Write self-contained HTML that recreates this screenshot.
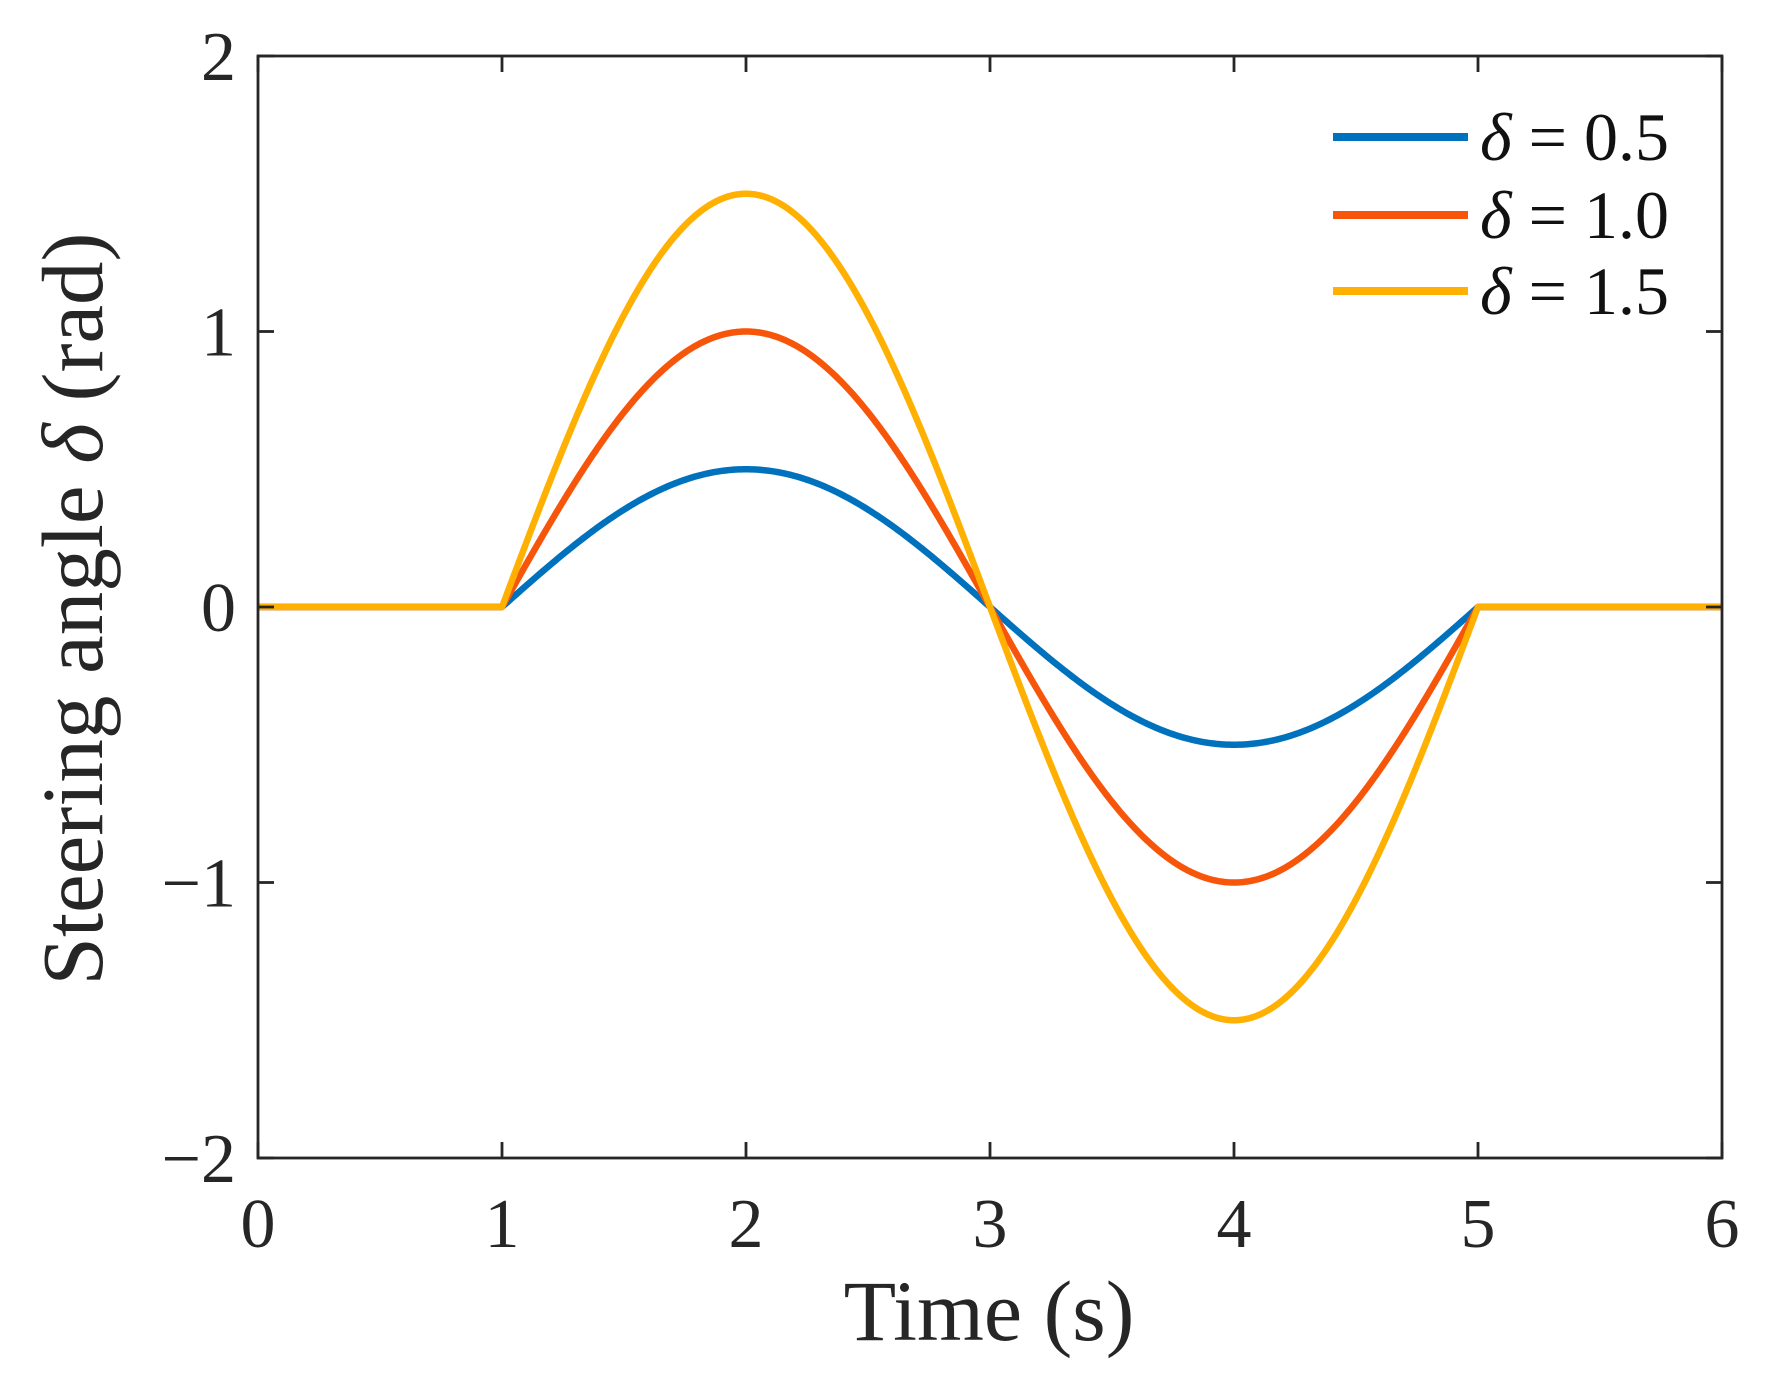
<!DOCTYPE html>
<html><head><meta charset="utf-8"><style>
html,body{margin:0;padding:0;background:#fff;}
svg{display:block;font-family:"Liberation Serif",serif;}
</style></head><body>
<svg id="chart" width="1768" height="1386" viewBox="0 0 1768 1386" xmlns="http://www.w3.org/2000/svg">
<rect x="0" y="0" width="1768" height="1386" fill="#fff"/>
<g id="plot"></g>
</svg>
<script>
const xTicks = [0,1,2,3,4,5,6];
const yTicks = [-2,-1,0,1,2];
const yTickLabels = ["\u22122","\u22121","0","1","2"];
const seriesNames = ["\u03b4 = 0.5","\u03b4 = 1.0","\u03b4 = 1.5"];
const amplitudes = [0.5, 1.0, 1.5];
const colors = ["#0072BD","#F75509","#FFB000"];
const maneuverStart = 1, maneuverEnd = 5;

const L=258,R=1722,T=56,B=1158;
const X=t=>L+(t-0)/(6-0)*(R-L);
const Y=v=>B-(v+2)/4*(B-T);
const g=document.getElementById('plot');
const NS="http://www.w3.org/2000/svg";
function mk(tag,attrs,parent){const e=document.createElementNS(NS,tag);for(const k in attrs)e.setAttribute(k,attrs[k]);(parent||g).appendChild(e);return e;}

amplitudes.forEach((a,i)=>{
  let pts=[];
  for(let k=0;k<=600;k++){
    const t=k/100;
    let v=0;
    if(t>=maneuverStart&&t<=maneuverEnd) v=a*Math.sin(Math.PI*(t-maneuverStart)/2);
    pts.push(X(t).toFixed(2)+','+Y(v).toFixed(2));
  }
  const p=mk('polyline',{points:pts.join(' '),fill:'none',stroke:colors[i],'stroke-width':6.5,'stroke-linejoin':'round'});
  
  
});

const box=mk('rect',{x:L,y:T,width:R-L,height:B-T,fill:'none',stroke:'#262626','stroke-width':2.8});



xTicks.forEach(t=>{
  mk('line',{x1:X(t),x2:X(t),y1:B,y2:B-16,stroke:'#262626','stroke-width':2.8});
  mk('line',{x1:X(t),x2:X(t),y1:T,y2:T+16,stroke:'#262626','stroke-width':2.8});
  const tx=mk('text',{x:X(t),y:1247,'text-anchor':'middle','font-size':70,fill:'#262626'});
  tx.textContent=t;
  
  
});
yTicks.forEach((v,i)=>{
  mk('line',{x1:L,x2:L+16,y1:Y(v),y2:Y(v),stroke:'#262626','stroke-width':2.8});
  mk('line',{x1:R,x2:R-16,y1:Y(v),y2:Y(v),stroke:'#262626','stroke-width':2.8});
  const tx=mk('text',{x:236,y:Y(v)+24,'text-anchor':'end','font-size':70,fill:'#262626'});
  tx.textContent=yTickLabels[i];
  
  
});

const xt=mk('text',{x:989,y:1340,'text-anchor':'middle','font-size':86,fill:'#262626'});
xt.textContent='Time (s)';



const yt=mk('text',{x:0,y:0,'text-anchor':'middle','font-size':87,fill:'#262626',transform:'translate(102,609) rotate(-90)'});
yt.innerHTML='Steering angle <tspan font-style="italic">\u03b4</tspan> (rad)';



const legY=[137,215,291];
seriesNames.forEach((n,i)=>{
  const ln=mk('line',{x1:1333,x2:1468,y1:legY[i],y2:legY[i],stroke:colors[i],'stroke-width':8});
  
  
  const tx=mk('text',{x:1480,y:legY[i]+23,'font-size':68,fill:'#111'});
  const parts=n.split(' = ');
  tx.innerHTML='<tspan font-style="italic">'+parts[0]+'</tspan> = '+parts[1];
  
  
});
</script>
</body></html>
